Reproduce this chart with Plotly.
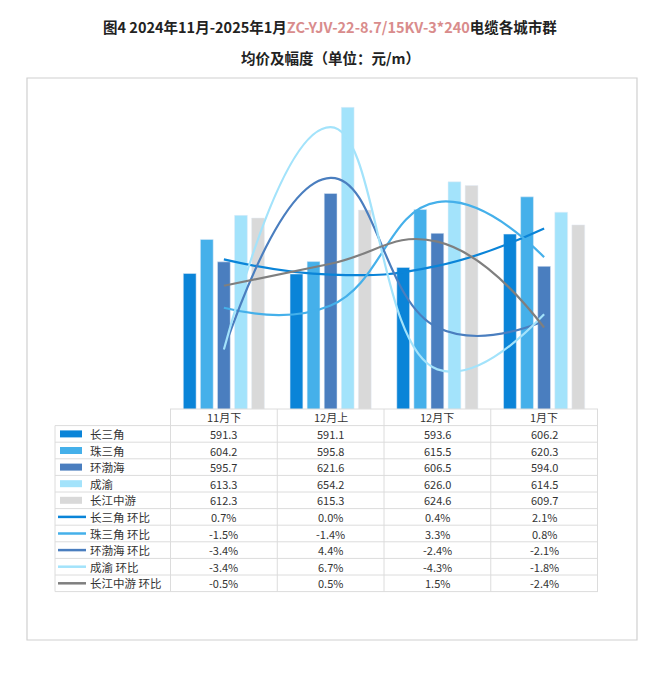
import plotly.graph_objects as go

categories = ["11月下", "12月上", "12月下", "1月下"]
regions = ["长三角", "珠三角", "环渤海", "成渝", "长江中游"]
prices = {
    "长三角": [591.3, 591.1, 593.6, 606.2],
    "珠三角": [604.2, 595.8, 615.5, 620.3],
    "环渤海": [595.7, 621.6, 606.5, 594.0],
    "成渝": [613.3, 654.2, 626.0, 614.5],
    "长江中游": [612.3, 615.3, 624.6, 609.7],
}
changes = {
    "长三角": [0.7, 0.0, 0.4, 2.1],
    "珠三角": [-1.5, -1.4, 3.3, 0.8],
    "环渤海": [-3.4, 4.4, -2.4, -2.1],
    "成渝": [-3.4, 6.7, -4.3, -1.8],
    "长江中游": [-0.5, 0.5, 1.5, -2.4],
}
bar_colors = ["#0a84d8", "#45b0ea", "#4a7ebf", "#a3e3fb", "#d9d9d9"]
line_colors = ["#0a84d8", "#45b0ea", "#4a7ebf", "#a3e3fb", "#7f7f7f"]

W, H = 660, 693
OFF = 8  # page body margin
L, R, T, B = 170 - OFF, 598 - OFF, 92 - OFF, 409 - OFF
FONT = "Noto Sans CJK SC"


def px(x):
    return (x - OFF - L) / (R - L)


def py(y):
    return (B - (y - OFF)) / (B - T)


fig = go.Figure()
for name, c in zip(regions, bar_colors):
    fig.add_trace(go.Bar(x=categories, y=prices[name], marker_color=c, name=name))
for name, c in zip(regions, line_colors):
    fig.add_trace(go.Scatter(
        x=categories, y=changes[name], yaxis="y2", mode="lines",
        line=dict(color=c, width=2.2, shape="spline", smoothing=1.3),
        name=f"{name} 环比",
    ))

shapes, annos = [], []
# frame
shapes.append(dict(type="rect", xref="paper", yref="paper",
                   x0=px(27), x1=px(637), y0=py(640), y1=py(78),
                   line=dict(color="#d0d0d0", width=1.2), layer="below"))

# table
row_h = 16.6
top = 409
rows = regions * 2
n = len(rows)
bottom = top + row_h * (n + 1)
grid = dict(color="#dcdcdc", width=1)
shapes.append(dict(type="line", xref="paper", yref="paper", x0=0, x1=1,
                   y0=py(top), y1=py(top), line=grid))
for i in range(1, n + 2):
    yy = top + row_h * i
    shapes.append(dict(type="line", xref="paper", yref="paper", x0=px(55), x1=1,
                       y0=py(yy), y1=py(yy), line=grid))
for k in range(len(categories) + 1):
    shapes.append(dict(type="line", xref="x", yref="paper", x0=k - 0.5, x1=k - 0.5,
                       y0=py(bottom), y1=py(top), line=grid))
shapes.append(dict(type="line", xref="paper", yref="paper", x0=px(55), x1=px(55),
                   y0=py(bottom), y1=py(top + row_h), line=grid))

txt_font = dict(size=11, color="#333")
for k, cat in enumerate(categories):
    annos.append(dict(x=k, xref="x", y=py(top + row_h / 2), yref="paper",
                      xanchor="center", yanchor="middle",
                      text=cat, showarrow=False, font=txt_font))

for i, name in enumerate(rows):
    yc = top + row_h * (i + 1.5)
    is_bar = i < 5
    idx = i % 5
    label = name if is_bar else f"{name} 环比"
    vals = prices[name] if is_bar else changes[name]
    if is_bar:
        shapes.append(dict(type="rect", xref="paper", yref="paper",
                           x0=px(60), x1=px(82), y0=py(yc + 3.5), y1=py(yc - 3.5),
                           fillcolor=bar_colors[idx], line=dict(width=0)))
    else:
        shapes.append(dict(type="line", xref="paper", yref="paper",
                           x0=px(58), x1=px(86), y0=py(yc), y1=py(yc),
                           line=dict(color=line_colors[idx], width=2.5)))
    annos.append(dict(x=px(88), xref="paper", y=py(yc), yref="paper",
                      xanchor="left", yanchor="middle",
                      text=label, showarrow=False, font=dict(size=11.5, color="#333")))
    for k, v in enumerate(vals):
        txt = f"{v:.1f}" if is_bar else f"{v:.1f}%"
        annos.append(dict(x=k, xref="x", y=py(yc), yref="paper", text=txt,
                          xanchor="center", yanchor="middle",
                          showarrow=False, font=txt_font))

# title
annos.append(dict(
    x=px(330), xref="paper", y=py(27), yref="paper", showarrow=False,
    xanchor="center", yanchor="middle",
    text="<b>图4 2024年11月-2025年1月<span style='color:#d98c8c'>ZC-YJV-22-8.7/15KV-3*240</span>电缆各城市群</b>",
    font=dict(size=14.5, color="#222")))
annos.append(dict(x=px(330), xref="paper", y=py(57), yref="paper", showarrow=False,
                  xanchor="center", yanchor="middle",
                  text="<b>均价及幅度（单位：元/m）</b>", font=dict(size=14.5, color="#222")))

fig.update_layout(
    width=W, height=H, margin=dict(l=L, r=W - R, t=T, b=H - B),
    paper_bgcolor="white", plot_bgcolor="white", showlegend=False,
    font=dict(family=FONT),
    barmode="group", bargap=0.2, bargroupgap=0.25,
    xaxis=dict(type="category", visible=False),
    yaxis=dict(range=[540, 660], visible=False),
    yaxis2=dict(range=[-6.1, 8.3], overlaying="y", visible=False),
    shapes=shapes, annotations=annos,
)
fig.write_html("out.html")
